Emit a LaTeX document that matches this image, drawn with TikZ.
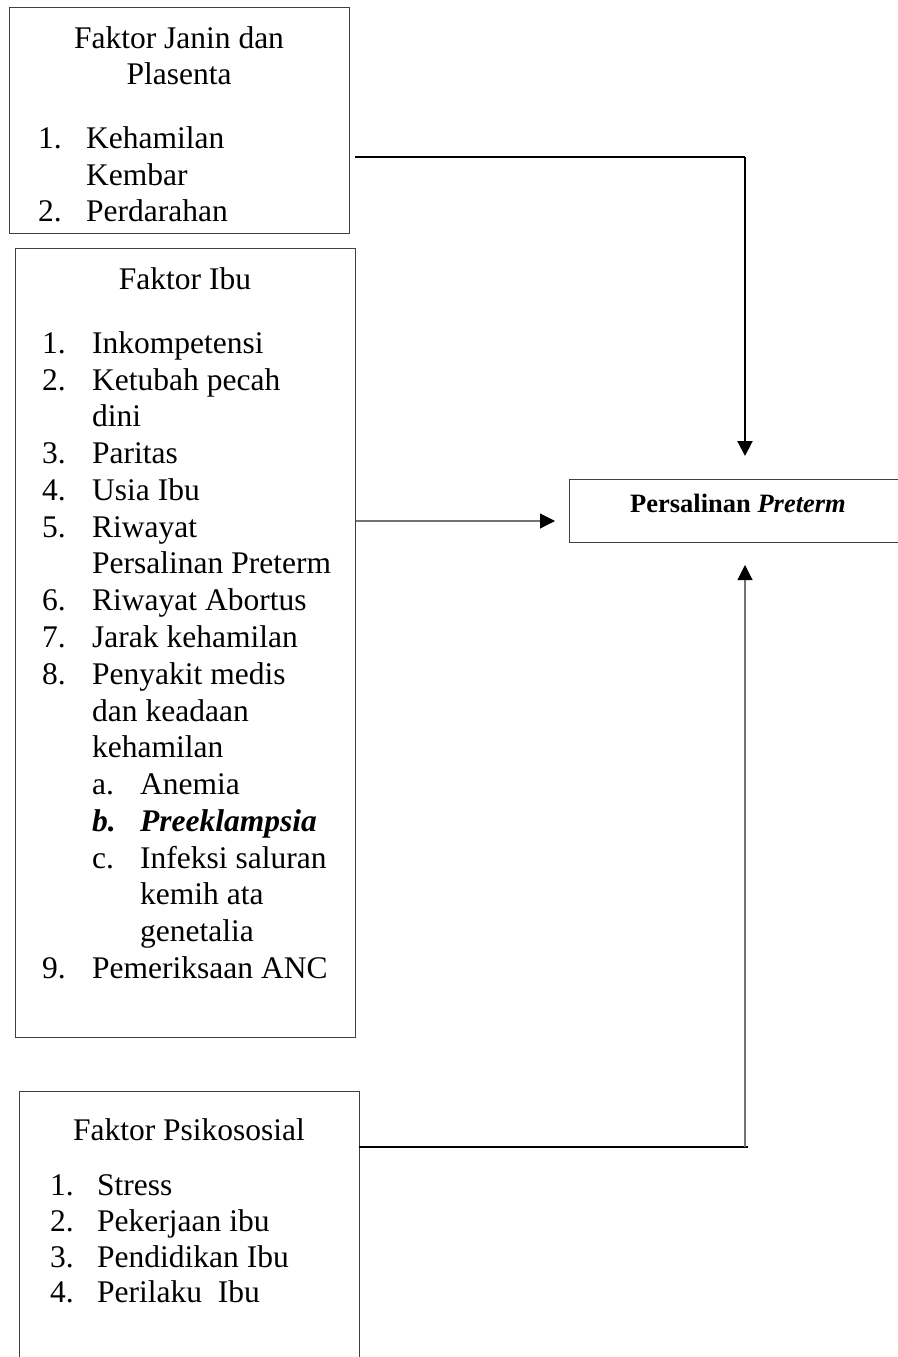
\documentclass[tikz,border=0pt]{standalone}
\usepackage{fontspec}
\setmainfont{Liberation Serif}
\usetikzlibrary{arrows.meta}
\tikzset{
  boxframe/.style={draw=black!75, line width=1pt, inner sep=0pt, anchor=north west},
  txt/.style={anchor=base west, inner sep=0pt, font=\fontsize{31.5}{36.7}\selectfont},
  ttl/.style={anchor=base, inner sep=0pt, font=\fontsize{31.5}{36.7}\selectfont},
  thickline/.style={line width=2pt, black},
  thinline/.style={line width=1.1pt, black!55},
  tip/.style={-{Triangle[width=15pt,length=15pt,color=black]}}
}
\begin{document}
\begin{tikzpicture}[x=1pt,y=-1pt]
\useasboundingbox (0,0) rectangle (897,1357);
% boxes
\node[boxframe, minimum width=340pt, minimum height=226pt] (b1) at (9,7) {};
\node[boxframe, minimum width=340pt, minimum height=789pt] (b2) at (15,248) {};
\node[boxframe, minimum width=340pt, minimum height=300pt] (b3) at (19,1091) {};
\node[boxframe, minimum width=360pt, minimum height=63pt] (p) at (569,479) {};
\node[anchor=base, inner sep=0pt, font=\fontsize{26.5}{30}\selectfont\bfseries] (pt) at (738,512) {Persalinan \textit{Preterm}};
% box 1 text
\node[ttl] (t1a) at (179,48) {Faktor Janin dan};
\node[ttl] (t1b) at (179,84) {Plasenta};
\node[txt] (n11) at (38,148) {1.};
\node[txt] (i11) at (86,148) {Kehamilan};
\node[txt] (i11b) at (86,185) {Kembar};
\node[txt] (n12) at (38,221) {2.};
\node[txt] (i12) at (86,221) {Perdarahan};
% box 2 text
\node[ttl] (t2) at (185,289) {Faktor Ibu};
\node[txt] (n21) at (42,353) {1.};
\node[txt] (i21) at (92,353) {Inkompetensi};
\node[txt] (n22) at (42,390) {2.};
\node[txt] (i22) at (92,390) {Ketubah pecah};
\node[txt] (i22b) at (92,426) {dini};
\node[txt] (n23) at (42,463) {3.};
\node[txt] (i23) at (92,463) {Paritas};
\node[txt] (n24) at (42,500) {4.};
\node[txt] (i24) at (92,500) {Usia Ibu};
\node[txt] (n25) at (42,537) {5.};
\node[txt] (i25) at (92,537) {Riwayat};
\node[txt] (i25b) at (92,573) {Persalinan Preterm};
\node[txt] (n26) at (42,610) {6.};
\node[txt] (i26) at (92,610) {Riwayat Abortus};
\node[txt] (n27) at (42,647) {7.};
\node[txt] (i27) at (92,647) {Jarak kehamilan};
\node[txt] (n28) at (42,684) {8.};
\node[txt] (i28) at (92,684) {Penyakit medis};
\node[txt] (i28b) at (92,721) {dan keadaan};
\node[txt] (i28c) at (92,757) {kehamilan};
\node[txt] (na) at (92,794) {a.};
\node[txt] (ia) at (140,794) {Anemia};
\node[txt] (nb) at (92,831) {\bfseries\itshape b.};
\node[txt] (ib) at (140,831) {\bfseries\itshape Preeklampsia};
\node[txt] (nc) at (92,868) {c.};
\node[txt] (ic) at (140,868) {Infeksi saluran};
\node[txt] (icb) at (140,904) {kemih ata};
\node[txt] (icc) at (140,941) {genetalia};
\node[txt] (n29) at (42,978) {9.};
\node[txt] (i29) at (92,978) {Pemeriksaan ANC};
% box 3 text
\node[ttl] (t3) at (189,1140) {Faktor Psikososial};
\node[txt] (n31) at (50,1195) {1.};
\node[txt] (i31) at (97,1195) {Stress};
\node[txt] (n32) at (50,1231) {2.};
\node[txt] (i32) at (97,1231) {Pekerjaan ibu};
\node[txt] (n33) at (50,1267) {3.};
\node[txt] (i33) at (97,1267) {Pendidikan Ibu};
\node[txt] (n34) at (50,1302) {4.};
\node[txt] (i34) at (97,1302) {Perilaku\ \ Ibu};
% connectors
\coordinate (s1) at (355,157);
\coordinate (k1) at (745,157);
\coordinate (e1) at (745,456);
\draw[thickline] (s1) -- (k1);
\draw[thickline, tip] (k1) -- (e1);
\coordinate (s2) at (b2.east |- 0,521);
\coordinate (e2) at (555,521);
\draw[thinline, tip] (s2) -- (e2);
\coordinate (s3) at (359,1147);
\coordinate (k3) at (748,1147);
\coordinate (v3) at (745,1147);
\coordinate (e3) at (745,565);
\draw[thickline] (s3) -- (k3);
\draw[thinline, tip] (v3) -- (e3);
\end{tikzpicture}
\end{document}
